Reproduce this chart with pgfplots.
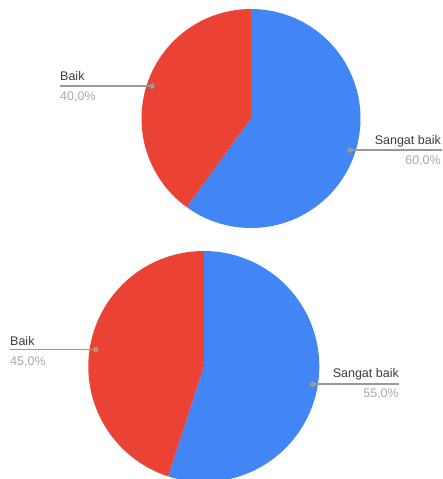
\documentclass[border=0pt]{standalone}
\usepackage{pgfplots}
\pgfplotsset{compat=1.18}
\usepackage{fontspec}
\setmainfont{Liberation Sans}
\definecolor{gblue}{HTML}{4285F4}
\definecolor{gred}{HTML}{EA4335}
\definecolor{lbl}{HTML}{3C3C3C}
\definecolor{pct}{HTML}{A8A8A8}
\definecolor{lead}{HTML}{999999}
% values (percent)
\def\TopSB{60}\def\TopB{40}
\def\BotSB{55}\def\BotB{45}
\begin{document}
\begin{tikzpicture}[every node/.append style={font=\fontsize{12.5}{15}\selectfont}]
\begin{axis}[width=442pt,height=479pt,scale only axis,
  xmin=0,xmax=442,ymin=0,ymax=479,y dir=reverse,hide axis]
% top pie
\addplot[fill=gblue,draw=none,domain=0:3.6*\TopSB,samples=150]
  ({251+109.5*sin(x)},{118.5-109.5*cos(x)}) -- (axis cs:251,118.5) -- cycle;
\addplot[fill=gred,draw=none,domain=3.6*\TopSB:3.6*(\TopSB+\TopB),samples=100]
  ({251+109.5*sin(x)},{118.5-109.5*cos(x)}) -- (axis cs:251,118.5) -- cycle;
% bottom pie
\addplot[fill=gblue,draw=none,domain=0:3.6*\BotSB,samples=150]
  ({203.8+115.5*sin(x)},{366.5-115.5*cos(x)}) -- (axis cs:203.8,366.5) -- cycle;
\addplot[fill=gred,draw=none,domain=3.6*\BotSB:3.6*(\BotSB+\BotB),samples=120]
  ({203.8+115.5*sin(x)},{366.5-115.5*cos(x)}) -- (axis cs:203.8,366.5) -- cycle;
% leader lines
\pgfplotsset{leader/.style={lead,line width=1.2pt,mark=*,mark size=2.3pt,
  mark options={fill=lead,draw=lead,line width=0pt},mark indices={1}}}
\addplot[leader] coordinates {(152,86) (60,86)};
\addplot[leader] coordinates {(350,150) (442,150)};
\addplot[leader] coordinates {(95.7,349.3) (10,349.3)};
\addplot[leader] coordinates {(312.7,384) (399,384)};
% labels
\node[anchor=base west,text=lbl,inner sep=0] at (axis cs:60,80) {Baik};
\node[anchor=base west,text=pct,inner sep=0] at (axis cs:60,100.5) {40,0\%};
\node[anchor=base east,text=lbl,inner sep=0] at (axis cs:441,144) {Sangat baik};
\node[anchor=base east,text=pct,inner sep=0] at (axis cs:441,164.5) {60,0\%};
\node[anchor=base west,text=lbl,inner sep=0] at (axis cs:10,345) {Baik};
\node[anchor=base west,text=pct,inner sep=0] at (axis cs:10,365) {45,0\%};
\node[anchor=base east,text=lbl,inner sep=0] at (axis cs:399,377.5) {Sangat baik};
\node[anchor=base east,text=pct,inner sep=0] at (axis cs:399,397) {55,0\%};
\end{axis}
\pgfresetboundingbox
\useasboundingbox (current axis.south west) rectangle (current axis.north east);
\end{tikzpicture}
\end{document}
